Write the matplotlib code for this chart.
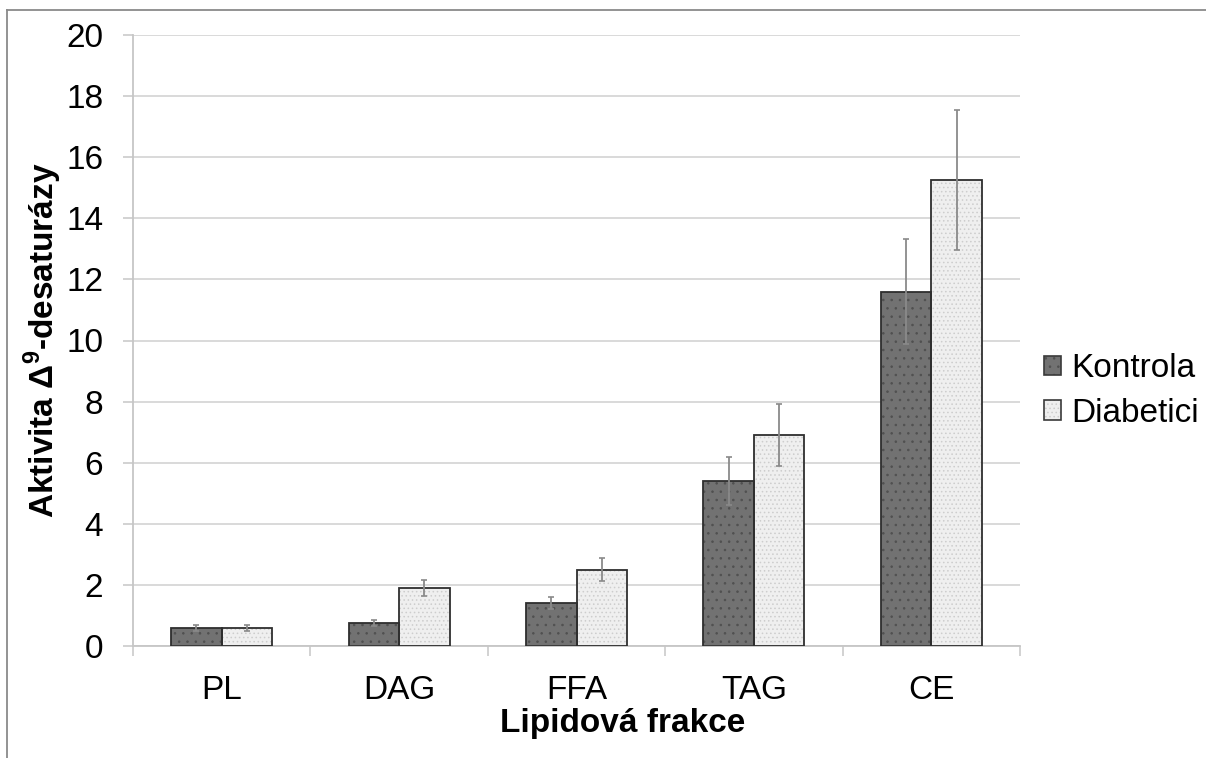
import matplotlib
matplotlib.use("Agg")
import matplotlib.pyplot as plt
import numpy as np
from matplotlib.patches import Patch
from matplotlib.lines import Line2D
from matplotlib.legend_handler import HandlerTuple

plt.rcParams['font.family'] = ['Liberation Sans', 'DejaVu Sans']
plt.rcParams['mathtext.fontset'] = 'custom'
plt.rcParams['mathtext.rm'] = 'Liberation Sans'
plt.rcParams['mathtext.bf'] = 'Liberation Sans:bold'
plt.rcParams['hatch.linewidth'] = 0.6

categories = ["PL", "DAG", "FFA", "TAG", "CE"]
series_names = ["Kontrola", "Diabetici"]
kontrola = [0.6, 0.75, 1.4, 5.4, 11.6]
kontrola_err = [0.1, 0.1, 0.2, 0.8, 1.72]
diabetici = [0.6, 1.9, 2.5, 6.9, 15.25]
diabetici_err = [0.1, 0.25, 0.37, 1.02, 2.28]
y_ticks = [0, 2, 4, 6, 8, 10, 12, 14, 16, 18, 20]

FS = 24

fig = plt.figure(figsize=(12.06, 7.58), dpi=100)
ax = fig.add_axes([133 / 1206, 1 - 646 / 758, 887 / 1206, 611 / 758])

x = np.arange(len(categories))
width = 0.285

styles = [
    dict(vals=kontrola, err=kontrola_err, off=-width / 2, face='#727272',
         hcol='#505050', hatch='..', ecol='#8a8a8a'),
    dict(vals=diabetici, err=diabetici_err, off=width / 2, face='#efefef',
         hcol='#cdcdcd', hatch='....', ecol='#8a8a8a'),
]

handles = []
for s in styles:
    ax.bar(x + s['off'], s['vals'], width, color=s['face'], edgecolor=s['hcol'],
           hatch=s['hatch'], linewidth=0, zorder=2)
    ax.bar(x + s['off'], s['vals'], width, fill=False, edgecolor='#2e2e2e',
           linewidth=1.3, zorder=3)
    ax.errorbar(x + s['off'], s['vals'], yerr=s['err'], fmt='none',
                ecolor=s['ecol'], elinewidth=1.3, capsize=2.3, capthick=1.2,
                zorder=4)
    hp = Patch(facecolor=s['face'], edgecolor=s['hcol'], hatch=s['hatch'], linewidth=0)
    op = Patch(fill=False, edgecolor='#3a3a3a', linewidth=1.2)
    handles.append((hp, op))

ax.set_xlim(-0.5, len(categories) - 0.5)
ax.set_ylim(0, 20)
ax.set_yticks(y_ticks)
ax.set_xticks(x)
ax.set_xticklabels(categories)
ax.set_xticks(np.arange(-0.5, len(categories), 1.0), minor=True)

ax.set_axisbelow(True)
ax.yaxis.grid(True, color='#d9d9d9', linewidth=1.4)
for side in ['top', 'right']:
    ax.spines[side].set_visible(False)
for side in ['left', 'bottom']:
    ax.spines[side].set_color('#c6c6c6')
    ax.spines[side].set_linewidth(1.3)

ax.tick_params(axis='y', direction='out', length=7.5, width=1.1, color='#c6c6c6',
               labelsize=FS, pad=14)
ax.tick_params(axis='x', which='major', length=0, labelsize=FS, pad=21)
ax.tick_params(axis='x', which='minor', direction='out', length=7, width=1.1,
               color='#c6c6c6')

ax.set_xlabel("Lipidová frakce", fontsize=FS, fontweight='bold')
ax.xaxis.set_label_coords(0.552, -0.101)
ax.set_ylabel(r"Aktivita Δ$^{\mathbf{9}}$-desaturázy", fontsize=FS, fontweight='bold')
ax.yaxis.set_label_coords(-0.078, 0.5)

ax.legend(handles, series_names, handler_map={tuple: HandlerTuple(ndivide=1, pad=0)},
          loc='center left', bbox_to_anchor=(1044 / 1206, 1 - 391 / 758),
          bbox_transform=fig.transFigure, frameon=False, fontsize=FS,
          handlelength=0.52, handleheight=0.52, handletextpad=0.3,
          labelspacing=0.4, borderpad=0, borderaxespad=0)

# outer frame along the left and top edges
fig.add_artist(Line2D([7 / 1206, 7 / 1206], [0, 1 - 10 / 758], transform=fig.transFigure,
                      color='#8a8a8a', linewidth=1.3))
fig.add_artist(Line2D([7 / 1206, 1], [1 - 10 / 758, 1 - 10 / 758], transform=fig.transFigure,
                      color='#8a8a8a', linewidth=1.3))

fig.savefig("out.png", dpi=100)
